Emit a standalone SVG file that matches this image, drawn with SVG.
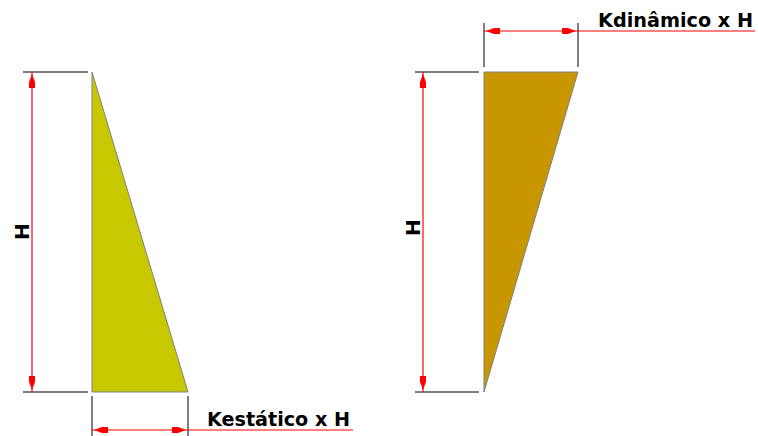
<svg xmlns="http://www.w3.org/2000/svg" width="758" height="436" viewBox="0 0 758 436">
<style>
.ext{stroke:#000;stroke-width:1;fill:none}
.dim{stroke:#ff0000;stroke-width:1.2;fill:none}
.arr{fill:#ff0000;stroke:none}
.lbl{font-family:"DejaVu Sans",Verdana,sans-serif;font-weight:bold;font-size:20px;fill:#000}
.tri{stroke:#808080;stroke-width:1}
</style>
<rect width="758" height="436" fill="#fff"/>
<g id="static-triangle">
<polygon class="tri" points="92,72 92,392 188,392" fill="#c8c800"/>
</g>
<g id="dynamic-triangle">
<polygon class="tri" points="484,72 578,72 484,392" fill="#c89600"/>
</g>
<g id="connectors">
<line class="ext" x1="23" y1="72" x2="88" y2="72"/>
<line class="ext" x1="23" y1="392" x2="88" y2="392" stroke="#404040"/>
<line class="dim" x1="32" y1="72" x2="32" y2="392"/>
<polygon class="arr" points="32,74 35,82 35,88 29,88 29,82"/>
<polygon class="arr" points="32,390 35,382 35,376 29,376 29,382"/>
<line class="ext" x1="92" y1="396" x2="92" y2="436" stroke="#404040"/>
<line class="ext" x1="188" y1="396" x2="188" y2="436" stroke="#404040"/>
<line class="dim" x1="92" y1="430" x2="353" y2="430"/>
<polygon class="arr" points="94,430 102,427 108,427 108,433 102,433"/>
<polygon class="arr" points="186,430 178,427 172,427 172,433 178,433"/>
<line class="ext" x1="415" y1="72" x2="479" y2="72"/>
<line class="ext" x1="415" y1="392" x2="479" y2="392" stroke="#404040"/>
<line class="dim" x1="423" y1="72" x2="423" y2="392"/>
<polygon class="arr" points="423,74 426,82 426,88 420,88 420,82"/>
<polygon class="arr" points="423,390 426,382 426,376 420,376 420,382"/>
<line class="ext" x1="484" y1="23" x2="484" y2="67"/>
<line class="ext" x1="578" y1="23" x2="578" y2="67"/>
<line class="dim" x1="484" y1="31" x2="755" y2="31"/>
<polygon class="arr" points="486,31 494,28 500,28 500,34 494,34"/>
<polygon class="arr" points="576,31 568,28 562,28 562,34 568,34"/>
</g>
<g id="labels">
<text class="lbl" x="207" y="426" textLength="143" lengthAdjust="spacingAndGlyphs">Kestático x H</text>
<text class="lbl" x="598" y="27" textLength="155" lengthAdjust="spacingAndGlyphs">Kdinâmico x H</text>
<text class="lbl" transform="translate(28.5,231.5) rotate(-90)" text-anchor="middle" font-size="21">H</text>
<text class="lbl" transform="translate(419.5,227.5) rotate(-90)" text-anchor="middle" font-size="21">H</text>
</g>
</svg>
